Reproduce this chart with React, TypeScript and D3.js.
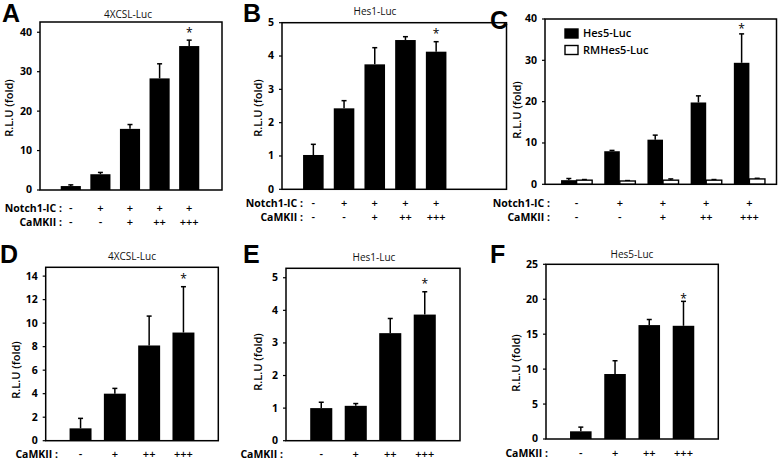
import React from 'react';
import * as d3 from 'd3';

// row markers under the bars
const notchMarks = ['-', '+', '+', '+', '+'];
const camkMarks5 = ['-', '-', '+', '++', '+++'];
const camkMarks4 = ['-', '+', '++', '+++'];

// A: 4XCSL-Luc with Notch1-IC
const cslNotchMean = [1.0, 4.0, 15.5, 28.3, 36.5];
const cslNotchErr = [0.3, 0.45, 1.1, 3.7, 1.5];
// B: Hes1-Luc with Notch1-IC
const hes1NotchMean = [1.03, 2.43, 3.75, 4.48, 4.13];
const hes1NotchErr = [0.32, 0.23, 0.5, 0.1, 0.3];
// C: Hes5-Luc vs RMHes5-Luc
const hes5NotchMean = [1.0, 8.0, 10.8, 19.8, 29.4];
const hes5NotchErr = [0.4, 0.2, 1.1, 1.6, 7.0];
const rmHes5Mean = [1.0, 0.8, 1.0, 1.0, 1.3];
const rmHes5Err = [0.15, 0.1, 0.3, 0.15, 0.15];
// D-F: CaMKII only
const cslMean = [1.05, 4.0, 8.1, 9.2];
const cslErr = [0.85, 0.45, 2.5, 3.9];
const hes1Mean = [1.0, 1.07, 3.3, 3.87];
const hes1Err = [0.18, 0.07, 0.45, 0.7];
const hes5Mean = [1.1, 9.3, 16.3, 16.2];
const hes5Err = [0.6, 1.9, 0.8, 3.5];

const ticks40 = [0, 10, 20, 30, 40];
const ticks5 = [0, 1, 2, 3, 4, 5];
const ticks14 = [0, 2, 4, 6, 8, 10, 12, 14];
const ticks25 = [0, 5, 10, 15, 20, 25];

const legendNames = ['Hes5-Luc', 'RMHes5-Luc'];

const FONT = "'Open Sans', 'Noto Sans', sans-serif";

type Series = { mean: number[]; err: number[]; fill: string };
type Row = { label: string; marks: string[] };
type Cfg = {
  letter: string; letterX: number; letterY: number;
  title?: string; titleX: number; titleY: number;
  left: number; top: number; right: number; bottom: number;
  yMax: number; ticks: number[];
  xRange: [number, number]; pad: number;
  series: Series[];
  rows: Row[]; rowYs: number[]; labelRight: number;
  ylabX: number; ylabY: number;
  starGap: number;
  legend?: boolean;
};

const topRows = (): Row[] => [
  { label: 'Notch1-IC :', marks: notchMarks },
  { label: 'CaMKII :', marks: camkMarks5 },
];
const bottomRows = (): Row[] => [{ label: 'CaMKII :', marks: camkMarks4 }];

const panels: Cfg[] = [
  {
    letter: 'A', letterX: 2, letterY: 22, title: '4XCSL-Luc', titleX: 128, titleY: 18,
    left: 40, top: 22, right: 222, bottom: 190, yMax: 42.6, ticks: ticks40,
    xRange: [56, 204], pad: 0.32,
    series: [{ mean: cslNotchMean, err: cslNotchErr, fill: '#000' }],
    rows: topRows(), rowYs: [208, 222], labelRight: 62, ylabX: 9, ylabY: 108, starGap: 3.3,
  },
  {
    letter: 'B', letterX: 243, letterY: 22, title: 'Hes1-Luc', titleX: 375, titleY: 15,
    left: 282, top: 22.7, right: 506.5, bottom: 189.3, yMax: 5, ticks: ticks5,
    xRange: [298, 451.5], pad: 0.33,
    series: [{ mean: hes1NotchMean, err: hes1NotchErr, fill: '#000' }],
    rows: topRows(), rowYs: [203, 217], labelRight: 303, ylabX: 258, ylabY: 108, starGap: 3.6,
  },
  {
    letter: 'C', letterX: 490, letterY: 29, titleX: 0, titleY: 0,
    left: 545, top: 19, right: 776.5, bottom: 184.3, yMax: 40, ticks: ticks40,
    xRange: [555, 771], pad: 0.28,
    series: [
      { mean: hes5NotchMean, err: hes5NotchErr, fill: '#000' },
      { mean: rmHes5Mean, err: rmHes5Err, fill: '#fff' },
    ],
    rows: topRows(), rowYs: [203, 217], labelRight: 550, ylabX: 517, ylabY: 110, starGap: 0.6,
    legend: true,
  },
  {
    letter: 'D', letterX: 0, letterY: 263, title: '4XCSL-Luc', titleX: 132, titleY: 260,
    left: 45.7, top: 267.3, right: 218.3, bottom: 440.7, yMax: 14.75, ticks: ticks14,
    xRange: [63.4, 200.6], pad: 0.36,
    series: [{ mean: cslMean, err: cslErr, fill: '#000' }],
    rows: bottomRows(), rowYs: [454], labelRight: 58, ylabX: 16, ylabY: 370, starGap: 4,
  },
  {
    letter: 'E', letterX: 243, letterY: 263, title: 'Hes1-Luc', titleX: 374, titleY: 261,
    left: 286, top: 268.3, right: 460, bottom: 440.7, yMax: 5.29, ticks: ticks5,
    xRange: [304, 442], pad: 0.36,
    series: [{ mean: hes1Mean, err: hes1Err, fill: '#000' }],
    rows: bottomRows(), rowYs: [454], labelRight: 283, ylabX: 258, ylabY: 362, starGap: 4,
  },
  {
    letter: 'F', letterX: 490, letterY: 263, title: 'Hes5-Luc', titleX: 632, titleY: 258,
    left: 546, top: 264.3, right: 718.3, bottom: 439, yMax: 25, ticks: ticks25,
    xRange: [563.7, 700.6], pad: 0.37,
    series: [{ mean: hes5Mean, err: hes5Err, fill: '#000' }],
    rows: bottomRows(), rowYs: [453.5], labelRight: 548, ylabX: 516, ylabY: 363, starGap: -1.7,
  },
];

function Panel({ c }: { c: Cfg }) {
  const n = c.series[0].mean.length;
  const x = d3.scaleBand<number>().domain(d3.range(n)).range(c.xRange)
    .paddingInner(c.pad).paddingOuter(c.pad / 2);
  const xs = d3.scaleBand<number>().domain(d3.range(c.series.length)).range([0, x.bandwidth()]);
  const y = d3.scaleLinear().domain([0, c.yMax]).range([c.bottom, c.top]);
  const bw = xs.bandwidth();

  const last = n - 1;
  const starX = (x(last) ?? 0) + (xs(0) ?? 0) + bw / 2;
  const starY = y(c.series[0].mean[last] + c.series[0].err[last]) - c.starGap;

  return (
    <g>
      <text x={c.letterX} y={c.letterY} fontFamily="'Liberation Sans', Arial, sans-serif"
        fontWeight={700} fontSize={25}>{c.letter}</text>
      {c.title && (
        <text x={c.titleX} y={c.titleY} textAnchor="middle" fontSize={10} fill="#111">{c.title}</text>
      )}
      {c.series.map((s, si) => (
        <g key={si}>
          {s.mean.map((v, i) => {
            const bx = (x(i) ?? 0) + (xs(si) ?? 0);
            const cx = bx + bw / 2;
            const yt = y(v + s.err[i]);
            return (
              <g key={i}>
                <line x1={cx} x2={cx} y1={y(v)} y2={yt} stroke="#000" strokeWidth={1.5} />
                <line x1={cx - 2.5} x2={cx + 2.5} y1={yt} y2={yt} stroke="#000" strokeWidth={1.5} />
                <rect x={bx} y={y(v)} width={bw} height={c.bottom - y(v)} fill={s.fill}
                  stroke="#000" strokeWidth={s.fill === '#fff' ? 1.4 : 0} />
              </g>
            );
          })}
        </g>
      ))}
      <text x={starX} y={starY} textAnchor="middle" fontSize={12}>*</text>
      <rect x={c.left} y={c.top} width={c.right - c.left} height={c.bottom - c.top}
        fill="none" stroke="#000" strokeWidth={1.5} />
      {c.ticks.map((t) => (
        <g key={t}>
          <line x1={c.left - 3} x2={c.left} y1={y(t)} y2={y(t)} stroke="#000" strokeWidth={1.2} />
          <text x={c.left - 8} y={y(t)} dy="0.33em" textAnchor="end" fontSize={10.5} fontWeight={700}>{t}</text>
        </g>
      ))}
      <text transform={`translate(${c.ylabX},${c.ylabY}) rotate(-90)`} textAnchor="middle" dy="0.35em"
        fontSize={11} fontWeight={600}>R.L.U (fold)</text>
      {c.rows.map((r, ri) => (
        <g key={ri}>
          <text x={c.labelRight} y={c.rowYs[ri]} dy="0.35em" textAnchor="end" fontSize={10.5} fontWeight={700}>{r.label}</text>
          {r.marks.map((m, i) => (
            <text key={i} x={(x(i) ?? 0) + x.bandwidth() / 2} y={c.rowYs[ri]} dy="0.35em"
              textAnchor="middle" fontSize={11} fontWeight={600}>{m}</text>
          ))}
        </g>
      ))}
      {c.legend && legendNames.map((name, li) => (
        <g key={name}>
          <rect x={565} y={29} width={13} height={9} transform={`translate(0,${li * 16.5})`}
            fill={c.series[li].fill} stroke="#000" strokeWidth={1.4} />
          <text x={583} y={33.5 + li * 16.5} dy="0.35em" fontSize={11} fontWeight={600}>{name}</text>
        </g>
      ))}
    </g>
  );
}

export default function App() {
  return (
    <svg width={780} height={461} style={{ position: 'absolute', left: 0, top: 0, background: '#fff' }}
      fontFamily={FONT}>
      <rect width={780} height={461} fill="#fff" />
      {panels.map((p) => <Panel key={p.letter} c={p} />)}
    </svg>
  );
}
